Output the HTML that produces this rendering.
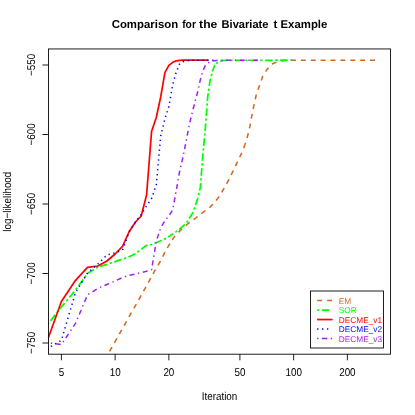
<!DOCTYPE html>
<html><head><meta charset="utf-8"><title>Comparison for the Bivariate t Example</title>
<style>
html,body{margin:0;padding:0;background:#fff;}
svg{display:block;will-change:transform;text-rendering:geometricPrecision;font-family:"Liberation Sans",sans-serif;}
</style></head>
<body>
<svg width="415" height="415" viewBox="0 0 415 415">
<rect width="415" height="415" fill="#fff"/>
<defs><clipPath id="c"><rect x="48.55" y="48.95" width="341.9" height="305.25"/></clipPath></defs>
<g clip-path="url(#c)">
<path d="M100.00,368.60 L109.70,351.20 L143.40,291.40 L155.00,270.40 L160.20,261.50 L167.30,247.80 L170.00,243.55" fill="none" stroke="#D2691E" stroke-width="1.55" stroke-dasharray="4.940 4.940" stroke-dashoffset="0.072" stroke-linejoin="round"/>
<path d="M170.00,243.55 L174.60,236.30 L180.40,230.50 L187.60,224.00 L196.30,217.50 L203.50,212.00 L210.00,207.10 L214.00,203.00 L220.00,195.50 L228.70,180.00 L232.40,172.40 L236.80,163.10 L240.90,154.70 L244.70,145.40 L245.00,144.44" fill="none" stroke="#D2691E" stroke-width="1.55" stroke-dasharray="4.940 4.940" stroke-dashoffset="5.573" stroke-linejoin="round"/>
<path d="M245.00,144.44 L247.60,136.10 L249.80,126.90 L251.20,119.10 L253.50,107.30 L256.10,95.50 L259.50,85.40 L262.80,76.10 L267.00,69.40 L272.90,63.50 L278.80,61.30 L285.60,60.50 L292.00,60.20 L375.00,60.20" fill="none" stroke="#D2691E" stroke-width="1.55" stroke-dasharray="4.940 4.940" stroke-dashoffset="3.110" stroke-linejoin="round"/>
<path d="M44.10,329.10 L61.40,307.00 L75.53,290.00 L87.48,273.50 L97.84,267.00 L100.00,266.36" fill="none" stroke="#00FF00" stroke-width="1.75" stroke-dasharray="2.300 2.500 7.600 2.600" stroke-dashoffset="9.324" stroke-linejoin="round"/>
<path d="M100.00,266.36 L106.97,264.30 L115.13,261.60 L122.52,259.00 L129.27,256.70 L135.47,253.60 L141.22,249.40 L146.57,245.30 L151.57,244.50 L156.27,242.50 L160.70,240.70 L164.89,238.90 L168.87,236.60 L170.00,235.85" fill="none" stroke="#00FF00" stroke-width="1.75" stroke-dasharray="2.300 2.500 7.600 2.600" stroke-dashoffset="4.905" stroke-linejoin="round"/>
<path d="M170.00,235.85 L172.65,234.10 L176.26,231.60 L179.70,229.00 L183.00,226.10 L186.17,223.30 L189.21,218.60 L192.13,213.90 L194.95,207.10 L197.67,198.40 L200.30,188.00 L202.84,155.00 L205.30,129.00 L207.69,97.00 L210.00,81.10 L212.25,72.00 L214.43,66.00 L215.00,65.28" fill="none" stroke="#00FF00" stroke-width="1.75" stroke-dasharray="2.300 2.500 7.600 2.600" stroke-dashoffset="8.678" stroke-linejoin="round"/>
<path d="M215.00,65.28 L216.56,63.30 L218.63,61.90 L220.64,61.10 L222.60,60.70 L224.52,60.40 L292.10,60.20" fill="none" stroke="#00FF00" stroke-width="1.75" stroke-dasharray="2.300 2.500 7.600 2.600" stroke-dashoffset="13.092" stroke-linejoin="round"/>
<path d="M44.10,349.70 L61.40,301.50 L75.53,280.30 L87.48,267.30 L97.84,266.00 L106.97,261.00 L115.13,254.00 L122.52,246.40 L129.27,231.50 L135.47,222.00 L141.22,216.00 L146.57,195.00 L151.57,131.60 L156.27,117.50 L160.70,97.00 L164.89,72.60 L168.87,65.40 L172.65,62.30 L176.26,60.90 L179.70,60.40 L183.00,60.20 L186.17,60.20 L189.21,60.20 L192.13,60.20 L194.95,60.20 L197.67,60.20 L200.30,60.20 L202.84,60.20 L205.30,60.20 L207.69,60.20 L208.30,60.20" fill="none" stroke="#FF0000" stroke-width="1.7" stroke-linejoin="round"/>
<path d="M50.84,346.50 L61.40,340.30 L75.53,292.60 L87.48,273.00 L97.84,264.00 L106.97,255.00 L115.13,252.80 L122.52,250.20 L129.27,231.50 L135.47,222.00 L141.22,214.50 L146.57,206.00 L151.57,198.50 L156.27,185.00 L160.70,135.90 L164.89,119.00 L168.87,106.50 L172.65,85.00 L176.26,72.00 L179.70,63.80 L183.00,61.70 L186.17,60.90 L189.21,60.50 L192.13,60.30 L194.95,60.20 L197.67,60.20 L200.30,60.20 L202.84,60.20 L205.30,60.20 L207.69,60.20 L210.00,60.20 L212.25,60.20 L214.43,60.20" fill="none" stroke="#0000FF" stroke-width="1.55" stroke-dasharray="1.300 3.619" stroke-dashoffset="0" stroke-linejoin="round"/>
<path d="M50.84,343.15 L61.40,344.50 L75.53,323.40 L87.48,295.00 L97.84,288.30 L106.97,284.50 L115.13,281.00 L122.52,277.50 L129.27,275.30 L135.47,274.00 L141.22,272.60 L146.57,271.20 L151.57,269.70 L156.27,241.30 L160.70,227.90 L164.89,220.80 L168.87,215.70 L172.65,210.20 L176.26,190.50 L179.70,171.00 L183.00,157.00 L186.17,141.00 L189.21,125.00 L192.13,113.00 L194.95,102.00 L197.67,92.00 L200.30,80.00 L202.84,71.00 L205.30,65.50 L207.69,63.00 L210.00,61.90 L212.25,61.10 L214.43,60.70 L216.56,60.40 L218.63,60.20 L220.64,60.20 L222.60,60.20 L224.52,60.20 L226.38,60.20 L228.21,60.20 L229.99,60.20 L231.73,60.20 L233.44,60.20 L235.10,60.20 L236.74,60.20 L238.33,60.20 L239.90,60.20 L241.44,60.20 L242.94,60.20 L244.42,60.20 L245.87,60.20 L247.29,60.20 L248.69,60.20 L250.06,60.20 L251.41,60.20 L252.73,60.20 L254.03,60.20 L255.32,60.20 L256.58,60.20 L257.82,60.20" fill="none" stroke="#A020F0" stroke-width="1.5" stroke-dasharray="1.350 3.582 5.000 3.643" stroke-dashoffset="0" stroke-linejoin="round"/>
</g>
<g stroke="#000" stroke-width="0.88" fill="none">
<rect x="48.55" y="48.95" width="341.9" height="305.25"/>
<path d="M61.40,354.20 v6.1" />
<path d="M115.13,354.20 v6.1" />
<path d="M168.87,354.20 v6.1" />
<path d="M239.90,354.20 v6.1" />
<path d="M293.63,354.20 v6.1" />
<path d="M347.37,354.20 v6.1" />
<path d="M48.55,65.00 h-6.1" />
<path d="M48.55,134.50 h-6.1" />
<path d="M48.55,204.00 h-6.1" />
<path d="M48.55,273.50 h-6.1" />
<path d="M48.55,343.00 h-6.1" />
</g>
<g font-size="11.3" fill="#000">
<text transform="translate(61.40,375.7) scale(0.874,1)" text-anchor="middle">5</text>
<text transform="translate(115.13,375.7) scale(0.874,1)" text-anchor="middle">10</text>
<text transform="translate(168.87,375.7) scale(0.874,1)" text-anchor="middle">20</text>
<text transform="translate(239.90,375.7) scale(0.874,1)" text-anchor="middle">50</text>
<text transform="translate(293.63,375.7) scale(0.874,1)" text-anchor="middle">100</text>
<text transform="translate(347.37,375.7) scale(0.874,1)" text-anchor="middle">200</text>
<text transform="translate(34.9,65.00) rotate(-90) scale(0.874,1)" text-anchor="middle">−550</text>
<text transform="translate(34.9,134.50) rotate(-90) scale(0.874,1)" text-anchor="middle">−600</text>
<text transform="translate(34.9,204.00) rotate(-90) scale(0.874,1)" text-anchor="middle">−650</text>
<text transform="translate(34.9,273.50) rotate(-90) scale(0.874,1)" text-anchor="middle">−700</text>
<text transform="translate(34.9,343.00) rotate(-90) scale(0.874,1)" text-anchor="middle">−750</text>
<text transform="translate(219.5,400.0) scale(0.874,1)" text-anchor="middle">Iteration</text>
<text transform="translate(10.7,201.7) rotate(-90) scale(0.874,1)" text-anchor="middle">log−likelihood</text>
</g>
<g font-size="11.4" font-weight="bold" fill="#000">
<text x="111.7" y="28.2">Comparison</text>
<text x="182.2" y="28.2" textLength="13.7" lengthAdjust="spacingAndGlyphs">for</text>
<text x="199.1" y="28.2" textLength="18.2" lengthAdjust="spacingAndGlyphs">the</text>
<text x="221.6" y="28.2" textLength="46.9" lengthAdjust="spacingAndGlyphs">Bivariate</text>
<text x="273.4" y="28.2">t</text>
<text x="280.5" y="28.2">Example</text>
</g>
<g>
<rect x="310.5" y="291.0" width="73.0" height="57.0" fill="#fff" stroke="#000" stroke-width="0.88"/>
<path d="M317.1,300.50 H332.6" stroke="#D2691E" stroke-width="1.55" stroke-dasharray="5 5" fill="none"/>
<text x="338.8" y="303.80" fill="#D2691E" font-size="8.3">EM</text>
<path d="M317.1,310.05 H331.9" stroke="#00FF00" stroke-width="1.85" stroke-dasharray="2.2 2.6 7.5 2.7" fill="none"/>
<text x="338.8" y="313.30" fill="#00FF00" font-size="8.3">SOR</text>
<path d="M317.1,319.55 H332.6" stroke="#FF0000" stroke-width="1.7" fill="none"/>
<text x="338.8" y="322.80" fill="#FF0000" font-size="8.3">DECME_v1</text>
<path d="M317.1,329.00 H331.4" stroke="#0000FF" stroke-width="1.6" stroke-dasharray="1.3 3.64" fill="none"/>
<text x="338.8" y="332.30" fill="#0000FF" font-size="8.3">DECME_v2</text>
<path d="M317.1,338.40 H332.6" stroke="#A020F0" stroke-width="1.5" stroke-dasharray="1.4 3.4 5.5 3.3" fill="none"/>
<text x="338.8" y="341.75" fill="#A020F0" font-size="8.3">DECME_v3</text>
</g>
</svg>
</body></html>
